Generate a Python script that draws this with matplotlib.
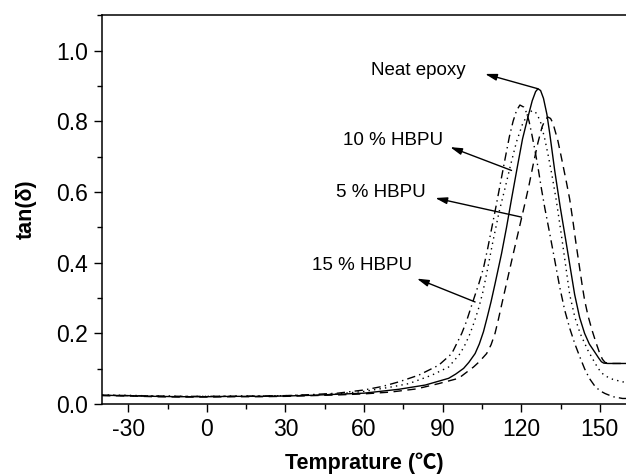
import matplotlib
matplotlib.use("Agg")
import matplotlib.pyplot as plt
from matplotlib.ticker import MultipleLocator

plt.rcParams['font.family'] = ['Liberation Sans', 'DejaVu Sans']

# ----------------------------
# Data
# ----------------------------
base_x = [-40, -30, -20, -10, 0, 10, 20]

neat_x = base_x + [30, 40, 50, 60, 73.3, 83.4, 92.3, 95.0, 98.0, 100.0, 102.4, 104.0,
                   105.6, 107.0, 108.5, 110.0, 112.5, 114.4, 116.3, 118.5, 120.5, 122.5,
                   124.2, 125.5, 126.4, 127.4, 128.5, 129.8, 130.9, 132.8, 134.9, 137.2,
                   139.1, 140.4, 142.3, 144.2, 146.0, 148.0, 149.6, 150.6, 151.5, 153, 156, 160]
neat_y = [0.025, 0.024, 0.022, 0.021, 0.021, 0.022, 0.022] + \
         [0.023, 0.025, 0.028, 0.031, 0.042, 0.054, 0.073, 0.085, 0.101, 0.118, 0.143, 0.170,
          0.205, 0.245, 0.290, 0.340, 0.426, 0.500, 0.580, 0.670, 0.750, 0.810,
          0.858, 0.884, 0.892, 0.887, 0.865, 0.820, 0.765, 0.660, 0.557, 0.455,
          0.369, 0.310, 0.245, 0.200, 0.170, 0.148, 0.130, 0.120, 0.116, 0.115, 0.115, 0.115]

hbpu10_x = base_x + [30, 40, 50, 60, 70, 77.1, 85.9, 92.3, 96.7, 98.7, 100.5, 102.2, 103.7,
                     105.3, 106.8, 109.2, 111.6, 113.8, 115.9, 118.2, 120.4, 122.3, 123.3,
                     124.2, 125.2, 126.2, 127.5, 129.0, 130.4, 131.8, 133.4, 135.3, 137.0,
                     138.5, 140.5, 142.5, 145.4, 147.5, 149.2, 150.5, 152, 155, 158.7, 160]
hbpu10_y = [0.026, 0.025, 0.023, 0.022, 0.022, 0.023, 0.023] + \
           [0.024, 0.026, 0.029, 0.036, 0.048, 0.058, 0.082, 0.105, 0.143, 0.170, 0.200,
            0.235, 0.270, 0.315, 0.369, 0.460, 0.545, 0.610, 0.675, 0.742, 0.790, 0.818,
            0.826, 0.830, 0.828, 0.818, 0.795, 0.750, 0.700, 0.645, 0.576, 0.480, 0.390,
            0.310, 0.245, 0.200, 0.153, 0.125, 0.103, 0.090, 0.080, 0.070, 0.063, 0.062]

hbpu5_x = base_x + [30, 40, 50, 60, 70, 80, 88.5, 96.1, 101.8, 104.0, 106.8, 108.5, 110.0,
                    111.3, 112.5, 114.5, 116.8, 119.0, 121.4, 123.0, 124.5, 126.4, 128.0,
                    129.2, 130.2, 131.2, 132.1, 134.0, 135.3, 137.2, 138.5, 139.7, 141.0,
                    142.3, 143.3, 144.2, 145.5, 147.0, 148.5, 150.0, 151.0, 152.0, 153.5,
                    156, 160]
hbpu5_y = [0.024, 0.023, 0.021, 0.020, 0.020, 0.021, 0.021] + \
          [0.022, 0.024, 0.026, 0.029, 0.034, 0.043, 0.058, 0.073, 0.105, 0.120, 0.143,
           0.168, 0.200, 0.240, 0.280, 0.345, 0.420, 0.490, 0.567, 0.620, 0.675, 0.740,
           0.785, 0.805, 0.812, 0.808, 0.795, 0.745, 0.699, 0.630, 0.580, 0.520, 0.450,
           0.385, 0.335, 0.294, 0.250, 0.210, 0.175, 0.143, 0.127, 0.118, 0.115,
           0.115, 0.115]

hbpu15_x = base_x + [30, 40, 50, 60, 67, 73.3, 80.9, 88.5, 93.5, 97.3, 99.0, 100.5, 102.0,
                     103.8, 105.6, 107.2, 108.8, 110.4, 112.2, 114.0, 115.5, 116.9, 118.2,
                     119.5, 121.0, 122.0, 123.0, 124.0, 125.2, 126.4, 127.7, 129.0, 130.9,
                     132.8, 134.7, 136.6, 138.5, 140.5, 142.3, 144.2, 146.0, 148.0, 150.0,
                     152.0, 155.0, 158.7, 160]
hbpu15_y = [0.025, 0.024, 0.023, 0.022, 0.022, 0.022, 0.023] + \
           [0.024, 0.027, 0.031, 0.040, 0.050, 0.063, 0.082, 0.110, 0.143, 0.200, 0.232,
            0.266, 0.300, 0.340, 0.385, 0.440, 0.500, 0.560, 0.630, 0.700, 0.757, 0.800,
            0.830, 0.846, 0.840, 0.825, 0.800, 0.765, 0.720, 0.670, 0.610, 0.555, 0.482,
            0.407, 0.331, 0.266, 0.215, 0.170, 0.135, 0.100, 0.073, 0.052, 0.038,
            0.030, 0.021, 0.016, 0.016]

labels = ["Neat epoxy", "10 % HBPU", "5 % HBPU", "15 % HBPU"]
label_xy = [(80.9, 0.943), (71.0, 0.746), (66.6, 0.600), (59.2, 0.393)]
arrow_head = [(106.2, 0.934), (92.9, 0.727), (87.2, 0.583), (80.2, 0.355)]
arrow_tail = [(126.4, 0.892), (116.3, 0.661), (120.1, 0.529), (102.4, 0.289)]

# ----------------------------
# Plot
# ----------------------------
fig = plt.figure(figsize=(6.26, 4.76), dpi=100)
ax = fig.add_axes([0.163, 0.151, 0.837, 0.817])

lw = 1.0
ax.plot(neat_x, neat_y, color="black", lw=lw, linestyle="-")
ax.plot(hbpu10_x, hbpu10_y, color="black", lw=lw, linestyle=(0, (1, 3)))
ax.plot(hbpu5_x, hbpu5_y, color="black", lw=lw, linestyle=(0, (6, 4)))
ax.plot(hbpu15_x, hbpu15_y, color="black", lw=lw, linestyle=(0, (6, 3, 1, 3)))

for lab, pos, head, tail in zip(labels, label_xy, arrow_head, arrow_tail):
    ax.text(pos[0], pos[1], lab, fontsize=13.5, ha="center", va="center")
    ax.annotate("", xy=head, xytext=tail,
                arrowprops=dict(arrowstyle="-|>,head_length=0.7,head_width=0.2",
                                color="black", lw=1.0, shrinkA=0, shrinkB=0))

ax.set_xlim(-40, 160)
ax.set_ylim(0, 1.1)
ax.xaxis.set_minor_locator(MultipleLocator(15))
ax.yaxis.set_minor_locator(MultipleLocator(0.1))
ax.set_xticks([-30, 0, 30, 60, 90, 120, 150])
ax.set_xticklabels(["-30", "0", "30", "60", "90", "120", "150"])
ax.set_yticks([0.0, 0.2, 0.4, 0.6, 0.8, 1.0])
ax.set_yticklabels(["0.0", "0.2", "0.4", "0.6", "0.8", "1.0"])

ax.tick_params(which="major", direction="out", length=6, width=1.0, labelsize=16.5, pad=4)
ax.tick_params(which="minor", direction="out", length=3.5, width=1.0)
ax.tick_params(top=False, right=False)

for s in ["left", "bottom", "top"]:
    ax.spines[s].set_linewidth(1.1)
ax.spines["right"].set_visible(False)

ax.set_xlabel("Temprature (℃)", fontsize=15.5, fontweight="bold", labelpad=8,
              family=["Liberation Sans", "Noto Sans CJK SC", "DejaVu Sans"])
ax.set_ylabel("tan(δ)", fontsize=15.5, fontweight="bold", labelpad=14)

fig.savefig("out.png", dpi=100)
